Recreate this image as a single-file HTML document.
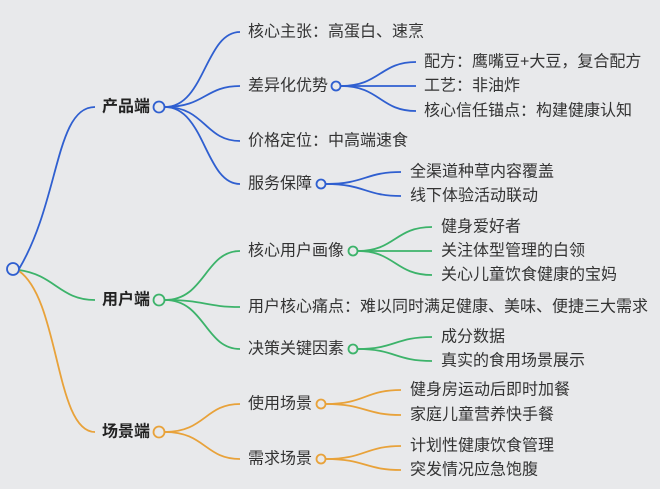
<!DOCTYPE html>
<html><head><meta charset="utf-8"><style>
body{margin:0;background:#e8e9eb;}
svg{display:block}
text{font-family:"Liberation Sans","Noto Sans CJK SC",sans-serif;font-size:16px;fill:#333;dominant-baseline:central}
.b{font-weight:bold;fill:#222}
</style></head><body>
<svg width="660" height="489" viewBox="0 0 660 489">
<g fill="none" stroke-width="1.8">
<g stroke="#2f5fd0">
<path d="M19,269 C60,200 55,107 95,107"/>
<path d="M165,107 C205,107 205,32 240,32"/>
<path d="M165,107 C205,107 205,86 240,86"/>
<path d="M165,107 C205,107 205,141 240,141"/>
<path d="M165,107 C205,107 205,184 240,184"/>
<path d="M341,86 C380,86 380,62 416,62"/>
<path d="M341,86 L416,86"/>
<path d="M341,86 C380,86 380,111 416,111"/>
<path d="M326,184 C365,184 365,172 401,172"/>
<path d="M326,184 C365,184 365,196 401,196"/>
<circle cx="159" cy="107" r="5.5" fill="#e8e9eb"/>
<circle cx="336" cy="86" r="4.5" fill="#e8e9eb"/>
<circle cx="321" cy="184" r="4.5" fill="#e8e9eb"/>
</g>
<g stroke="#3cb36a">
<path d="M19,270 C55,275 60,300 95,300"/>
<path d="M165,300 C205,300 205,251 240,251"/>
<path d="M165,300 C205,300 205,307 240,307"/>
<path d="M165,300 C205,300 205,349 240,349"/>
<path d="M358,251 C395,251 395,227 432,227"/>
<path d="M358,251 L432,251"/>
<path d="M358,251 C395,251 395,275 432,275"/>
<path d="M358,349 C395,349 395,337 432,337"/>
<path d="M358,349 C395,349 395,361 432,361"/>
<circle cx="159" cy="300" r="5.5" fill="#e8e9eb"/>
<circle cx="353" cy="251" r="4.5" fill="#e8e9eb"/>
<circle cx="353" cy="349" r="4.5" fill="#e8e9eb"/>
</g>
<g stroke="#e8a23a">
<path d="M19,271 C60,300 55,432 95,432"/>
<path d="M165,432 C205,432 205,404 240,404"/>
<path d="M165,432 C205,432 205,459 240,459"/>
<path d="M326,404 C365,404 365,390 401,390"/>
<path d="M326,404 C365,404 365,415 401,415"/>
<path d="M326,459 C365,459 365,446 401,446"/>
<path d="M326,459 C365,459 365,470 401,470"/>
<circle cx="159" cy="432" r="5.5" fill="#e8e9eb"/>
<circle cx="321" cy="404" r="4.5" fill="#e8e9eb"/>
<circle cx="321" cy="459" r="4.5" fill="#e8e9eb"/>
</g>
<circle cx="13" cy="269" r="6" stroke="#2f5fd0" fill="#e8e9eb"/>
</g>
<text class="b" x="102" y="107">产品端</text>
<text class="b" x="102" y="300">用户端</text>
<text class="b" x="102" y="432">场景端</text>
<text x="248" y="32">核心主张：高蛋白、速烹</text>
<text x="248" y="86">差异化优势</text>
<text x="248" y="141">价格定位：中高端速食</text>
<text x="248" y="184">服务保障</text>
<text x="424" y="62">配方：鹰嘴豆+大豆，复合配方</text>
<text x="424" y="86">工艺：非油炸</text>
<text x="424" y="111">核心信任锚点：构建健康认知</text>
<text x="410" y="172">全渠道种草内容覆盖</text>
<text x="410" y="196">线下体验活动联动</text>
<text x="248" y="251">核心用户画像</text>
<text x="248" y="307">用户核心痛点：难以同时满足健康、美味、便捷三大需求</text>
<text x="248" y="349">决策关键因素</text>
<text x="441" y="227">健身爱好者</text>
<text x="441" y="251">关注体型管理的白领</text>
<text x="441" y="275">关心儿童饮食健康的宝妈</text>
<text x="441" y="337">成分数据</text>
<text x="441" y="361">真实的食用场景展示</text>
<text x="248" y="404">使用场景</text>
<text x="248" y="459">需求场景</text>
<text x="410" y="390">健身房运动后即时加餐</text>
<text x="410" y="415">家庭儿童营养快手餐</text>
<text x="410" y="446">计划性健康饮食管理</text>
<text x="410" y="470">突发情况应急饱腹</text>
</svg>
</body></html>
